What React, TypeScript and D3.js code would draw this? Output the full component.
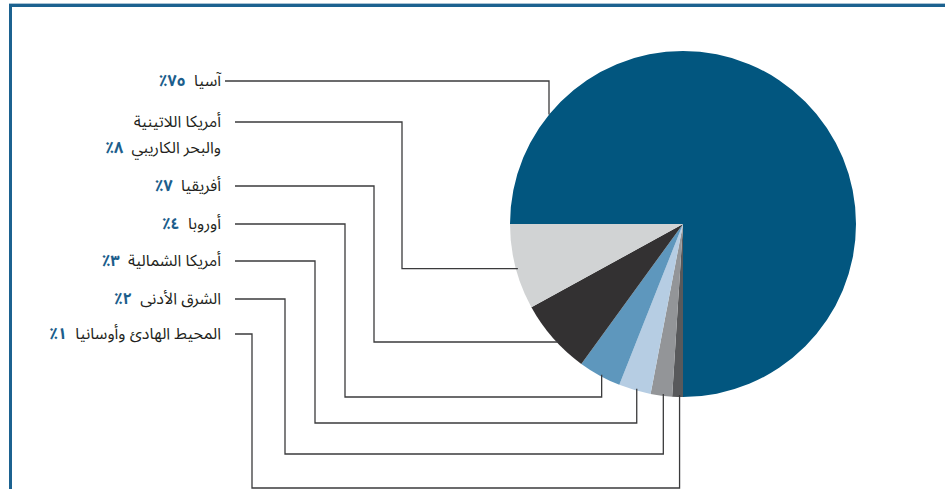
import React from "react";
import * as d3 from "d3";

const regions = ["آسيا", "أمريكا اللاتينية|والبحر الكاريبي", "أفريقيا", "أوروبا", "أمريكا الشمالية", "الشرق الأدنى", "المحيط الهادئ وأوسانيا"];
const shares = [75, 8, 7, 4, 3, 2, 1];
const shareLabels = ["٧٥٪", "٨٪", "٧٪", "٤٪", "٣٪", "٢٪", "١٪"];
const colors = ["#02567f", "#d1d3d4", "#333132", "#5e97bd", "#b6cde3", "#939598", "#58595b"];

// leader layout: label row y, elbow x, drop y (for lower slices)
const labelY = [81, 122, 186, 224, 261, 299, 334];
const elbowX = [549, 402, 374, 345, 315, 285, 252];
const dropY = [0, 268.7, 342, 397, 423, 454, 488];

const W = 945, H = 489;
const cx = 683, cy = 224, R = 173;

export default function App() {
  const order = [6, 5, 4, 3, 2, 1, 0];
  const pie = d3
    .pie<number>()
    .sort(null)
    .value((i) => shares[i])
    .startAngle(Math.PI)
    .endAngle(3 * Math.PI);
  const arcs = pie(order);
  const arcGen = d3.arc<any>().innerRadius(0).outerRadius(R);
  const byIdx: Record<number, any> = {};
  arcs.forEach((a) => (byIdx[a.data] = a));

  const edgeYAtX = (x: number, below: boolean) => {
    const dx = x - cx;
    const dy = Math.sqrt(Math.max(0, R * R - dx * dx));
    return below ? cy + dy : cy - dy;
  };
  const edgeXAtY = (y: number) => {
    const dy = y - cy;
    return cx - Math.sqrt(Math.max(0, R * R - dy * dy));
  };

  const leaders = regions.map((_, i) => {
    const startX = i === 0 ? 225 : 235;
    const y = labelY[i];
    const ex = elbowX[i];
    if (i === 0) {
      return `M${startX},${y}H${ex}V${edgeYAtX(ex, false)}`;
    }
    if (i <= 2) {
      const dy = dropY[i];
      return `M${startX},${y}H${ex}V${dy}H${edgeXAtY(dy) + 2}`;
    }
    const a = byIdx[i];
    const mid = (a.startAngle + a.endAngle) / 2;
    const tx = cx + R * Math.sin(mid) + 2;
    const dy = dropY[i];
    return `M${startX},${y}H${ex}V${dy}H${tx}V${edgeYAtX(tx, true) - 2}`;
  });

  return (
    <svg width={W} height={H} style={{ position: "absolute", left: 0, top: 0 }}>
      <rect x={0} y={0} width={W} height={H} fill="#fff" />
      <rect x={9} y={3} width={W - 9} height={1} fill="#a9c3d5" />
      <rect x={9} y={4} width={W - 9} height={3} fill="#1c6290" />
      <rect x={9} y={4} width={3} height={H - 4} fill="#1c6290" />
      <g transform={`translate(${cx},${cy})`}>
        {arcs.map((a) => (
          <path key={a.data} d={arcGen(a) as string} fill={colors[a.data]} />
        ))}
      </g>
      {leaders.map((d, i) => (
        <path key={i} d={d} fill="none" stroke="#3b3b3c" strokeWidth={1.3} />
      ))}
      {regions.map((r, i) => {
        const lines = r.split("|");
        const y0 = lines.length > 1 ? labelY[i] + 5 : labelY[i] + 5;
        return (
          <text
            key={i}
            fontFamily="'Noto Sans Arabic','DejaVu Sans',sans-serif"
            fontSize={16}
            direction="rtl"
            textAnchor="start"
            fill="#231f20"
          >
            {lines.map((ln, j) => (
              <tspan key={j} x={221} y={y0 + j * 26}>
                {ln}
                {j === lines.length - 1 && (
                  <tspan fill="#1c5e8c" fontWeight="bold">{"\u00A0\u00A0" + shareLabels[i]}</tspan>
                )}
              </tspan>
            ))}
          </text>
        );
      })}
    </svg>
  );
}
